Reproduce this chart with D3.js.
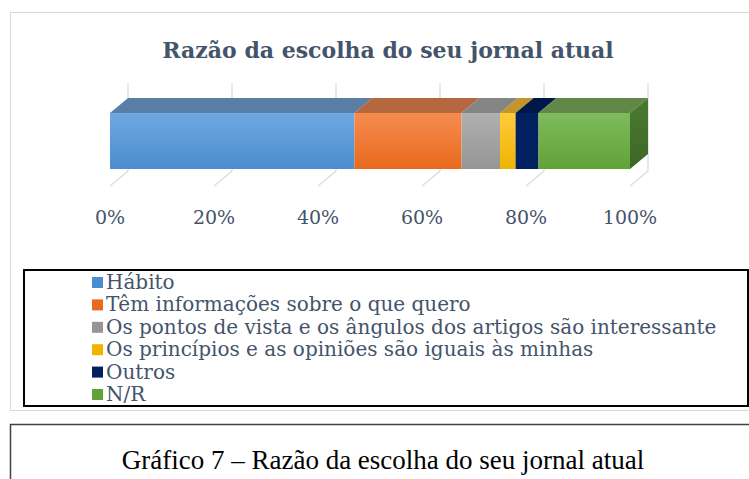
<!DOCTYPE html>
<head>
  <meta charset="utf-8">
  <style>
    body { margin: 0; background: #ffffff; }
  </style>
  <title>Razão da escolha do seu jornal atual</title>
</head>
<body>
  <script src="https://cdn.jsdelivr.net/npm/d3@7"></script>
  <script>
    // data (percent of answers)
    var categories = [
      "Hábito",
      "Têm informações sobre o que quero",
      "Os pontos de vista e os ângulos dos artigos são interessante",
      "Os princípios e as opiniões são iguais às minhas",
      "Outros",
      "N/R"
    ];
    var values = [47.0, 20.6, 7.4, 3.0, 4.4, 17.6];
    var tickValues = [0, 20, 40, 60, 80, 100];
    var tickLabels = ["0%", "20%", "40%", "60%", "80%", "100%"];

    // colours: front top, front bottom, top face
    var frontTop = ["#70a8e0", "#f58c50", "#b0b0b0", "#ffcb3a", "#00205f", "#7fbb5d"];
    var frontBot = ["#4a8dd0", "#e9691d", "#959595", "#efb400", "#00205f", "#61a237"];
    var topFace  = ["#5a7ea6", "#b5683f", "#858585", "#c4962a", "#00174a", "#628748"];

    var width = 749;
    var height = 479;
    var textColor = "#44546a";
    var chartFont = "'DejaVu Serif', 'Liberation Serif', serif";

    var svg = d3.select("body").append("svg")
      .attr("width", width)
      .attr("height", height);

    // chart area frame
    svg.append("rect")
      .attr("x", 10.5).attr("y", 12.5)
      .attr("width", 760).attr("height", 398)
      .attr("fill", "#ffffff")
      .attr("stroke", "#d9d9d9");

    // title
    svg.append("text")
      .attr("x", 388).attr("y", 58)
      .attr("text-anchor", "middle")
      .attr("fill", textColor)
      .style("font-family", chartFont)
      .style("font-weight", "bold")
      .style("font-size", "22px")
      .text("Razão da escolha do seu jornal atual");

    var x = d3.scaleLinear().domain([0, 100]).range([110, 630]);
    var barTop = 113, barH = 56;
    var dx = 18, dy = 15;
    var plotTop = 83, floorBack = 171, floorFront = 186;

    // back wall gridlines
    svg.append("g").selectAll("line")
      .data(tickValues).enter().append("line")
      .attr("x1", function(d) { return x(d) + dx; })
      .attr("x2", function(d) { return x(d) + dx; })
      .attr("y1", plotTop).attr("y2", floorBack)
      .attr("stroke", "#d9d9d9").attr("stroke-width", 1.2);

    // floor gridlines
    svg.append("g").selectAll("line")
      .data(tickValues).enter().append("line")
      .attr("x1", function(d) { return x(d); })
      .attr("x2", function(d) { return x(d) + dx; })
      .attr("y1", floorFront).attr("y2", floorBack)
      .attr("stroke", "#d9d9d9").attr("stroke-width", 1.2);

    // gradients for front faces
    var defs = svg.append("defs");
    values.forEach(function(v, i) {
      var g = defs.append("linearGradient")
        .attr("id", "grad" + i)
        .attr("x1", 0).attr("y1", 0).attr("x2", 0).attr("y2", 1);
      g.append("stop").attr("offset", "0%").attr("stop-color", frontTop[i]);
      g.append("stop").attr("offset", "100%").attr("stop-color", frontBot[i]);
    });

    // stacked segments
    var stack = [];
    var acc = 0;
    values.forEach(function(v, i) {
      stack.push({ i: i, x0: acc, x1: acc + v });
      acc += v;
    });

    var bars = svg.append("g").attr("id", "bars");

    // top faces
    bars.selectAll("path.top")
      .data(stack).enter().append("path")
      .attr("class", "top")
      .attr("d", function(d) {
        var a = x(d.x0), b = x(d.x1);
        return "M" + a + "," + barTop + "L" + (a + dx) + "," + (barTop - dy) +
               "L" + (b + dx) + "," + (barTop - dy) + "L" + b + "," + barTop + "Z";
      })
      .attr("fill", function(d) { return topFace[d.i]; });

    // front faces
    bars.selectAll("rect")
      .data(stack).enter().append("rect")
      .attr("x", function(d) { return x(d.x0); })
      .attr("y", barTop)
      .attr("width", function(d) { return x(d.x1) - x(d.x0); })
      .attr("height", barH)
      .attr("fill", function(d) { return "url(#grad" + d.i + ")"; });

    // right side face of last segment
    var last = stack[stack.length - 1];
    var sideGrad = defs.append("linearGradient")
      .attr("id", "side").attr("x1", 0).attr("y1", 0).attr("x2", 0).attr("y2", 1);
    sideGrad.append("stop").attr("offset", "0%").attr("stop-color", "#4c7a32");
    sideGrad.append("stop").attr("offset", "100%").attr("stop-color", "#3d6626");
    bars.append("path")
      .attr("d", "M" + x(last.x1) + "," + barTop +
                 "L" + (x(last.x1) + dx) + "," + (barTop - dy) +
                 "L" + (x(last.x1) + dx) + "," + (barTop - dy + barH) +
                 "L" + x(last.x1) + "," + (barTop + barH) + "Z")
      .attr("fill", "url(#side)");

    // axis labels
    svg.append("g").selectAll("text")
      .data(tickValues).enter().append("text")
      .attr("x", function(d) { return x(d); })
      .attr("y", 224)
      .attr("text-anchor", "middle")
      .attr("fill", textColor)
      .style("font-family", chartFont)
      .style("font-size", "19px")
      .text(function(d, i) { return tickLabels[i]; });

    // legend
    svg.append("rect")
      .attr("x", 24).attr("y", 270)
      .attr("width", 724).attr("height", 136)
      .attr("fill", "none")
      .attr("stroke", "#000000").attr("stroke-width", 2);

    var legend = svg.append("g").selectAll("g")
      .data(categories).enter().append("g")
      .attr("transform", function(d, i) { return "translate(92," + (282 + i * 22.4) + ")"; });
    legend.append("rect")
      .attr("x", 0).attr("y", -5)
      .attr("width", 11).attr("height", 11)
      .attr("fill", function(d, i) { return frontBot[i]; });
    legend.append("text")
      .attr("x", 14).attr("y", 7)
      .attr("fill", textColor)
      .style("font-family", chartFont)
      .style("font-size", "20px")
      .text(function(d) { return d; });

    // caption box
    svg.append("path")
      .attr("d", "M10.5,479V424.5H749")
      .attr("fill", "none")
      .attr("stroke", "#404040").attr("stroke-width", 1.5);
    svg.append("text")
      .attr("x", 383).attr("y", 469)
      .attr("text-anchor", "middle")
      .attr("fill", "#000000")
      .style("font-family", "'Liberation Serif', serif")
      .style("font-size", "27px")
      .text("Gráfico 7 – Razão da escolha do seu jornal atual");
  </script>
</body>
